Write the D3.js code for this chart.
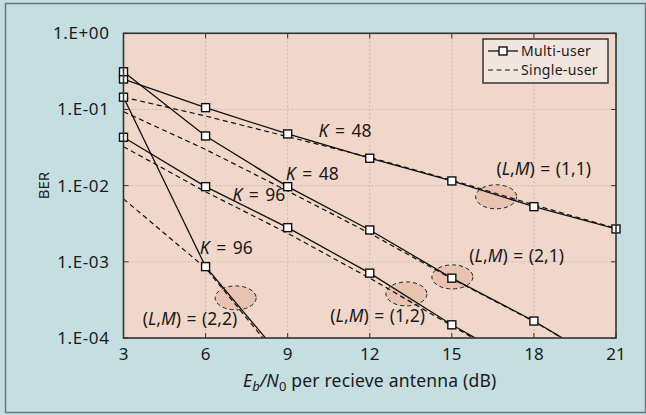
<!DOCTYPE html>
<meta charset="utf-8">
<script src="https://d3js.org/d3.v7.min.js"></script>
<style>
  body { margin: 0; }
  text { font-family: "Noto Sans", sans-serif; fill: #1a1a1a; }
</style>
<div id="chart"></div>
<script>

// x values (dB) and BER
var snr = [3, 6, 9, 12, 15, 18, 21];

// multi-user curves (solid, with squares)
var multi11 = [0.251, 0.1057, 0.0477, 0.0229, 0.01153, 0.0053, 0.0027];
var multi21 = [0.313, 0.0449, 0.0097, 0.00262, 0.00061, 0.000167, 0.000038];
var multi12 = [0.0432, 0.0097, 0.00281, 0.00071, 0.000149, 0.000037];
var multi22 = [0.145, 0.000865, 0.000045];

// single-user curves (dashed)
var single11 = [0.145, 0.082, 0.044, 0.0235, 0.0118, 0.0056, 0.00275];
var single21 = [0.0935, 0.0299, 0.0085, 0.00237, 0.0006, 0.000165, 0.000038];
var single12 = [0.0325, 0.0083, 0.00237, 0.00061, 0.000145, 0.000035];
var single22x = [3, 5.73, 6, 9];
var single22 = [0.0067, 0.001, 0.00083, 0.00004];

var yTicks = [1, 0.1, 0.01, 0.001, 0.0001];
var yTickLabels = ["1.E+00", "1.E-01", "1.E-02", "1.E-03", "1.E-04"];
var xTicks = [3, 6, 9, 12, 15, 18, 21];

// labels: [x dB, BER at baseline, text]
var kLabels = [[10.13, 0.0434, "48"], [8.93, 0.0119, "48"], [6.98, 0.00635, "96"], [5.79, 0.00127, "96"]];
var lmLabels = [[16.63, 0.0138, "(1,1)"], [15.64, 0.00098, "(2,1)"], [10.56, 0.000164, "(1,2)"], [3.70, 0.000148, "(2,2)"]];
// ellipse centres [x dB, BER]
var ellipses = [[16.62, 0.00714], [15.02, 0.000634], [13.34, 0.000379], [7.10, 0.000336]];

var W = 646, H = 415;
var margin = {top: 33.3, right: 30, bottom: 77, left: 123.5},
  width = 616 - margin.left,
  height = 338 - margin.top;

var svg = d3.select("#chart").append("svg")
  .attr("width", W).attr("height", H);

svg.append("rect").attr("width", W).attr("height", H).attr("fill", "#c4dee2");
svg.append("rect").attr("x", 5.5).attr("y", 3.5).attr("width", 640).attr("height", 409)
  .attr("fill", "none").attr("stroke", "#6c7779").attr("stroke-width", 1.5);

var g = svg.append("g").attr("transform", "translate(" + margin.left + "," + margin.top + ")");

var x = d3.scaleLinear().domain([3, 21]).range([0, width]);
var y = d3.scaleLog().domain([1e-4, 1]).range([height, 0]);

g.append("rect").attr("width", width).attr("height", height).attr("fill", "#f0d7ca");

// grid
g.selectAll(".gx").data(xTicks.slice(1, -1)).enter().append("line")
  .attr("x1", d => x(d)).attr("x2", d => x(d)).attr("y1", 0).attr("y2", height)
  .attr("stroke", "#c2bcbc").attr("stroke-width", 1).attr("stroke-dasharray", "2,2");
g.selectAll(".gy").data(yTicks.slice(1, -1)).enter().append("line")
  .attr("y1", d => y(d)).attr("y2", d => y(d)).attr("x1", 0).attr("x2", width)
  .attr("stroke", "#c2bcbc").attr("stroke-width", 1).attr("stroke-dasharray", "2,2");

// ellipses
g.selectAll(".ell").data(ellipses).enter().append("ellipse")
  .attr("cx", d => x(d[0])).attr("cy", d => y(d[1])).attr("rx", 20.5).attr("ry", 12)
  .attr("fill", "#e8c3b1").attr("stroke", "#222").attr("stroke-width", 1).attr("stroke-dasharray", "4,3");

g.append("clipPath").attr("id", "clip").append("rect").attr("width", width).attr("height", height);
var plot = g.append("g").attr("clip-path", "url(#clip)");

var line = d3.line().x(d => x(d[0])).y(d => y(d[1]));
function pts(xs, ys) { return ys.map((v, i) => [xs[i], v]); }

var singles = [pts(snr, single11), pts(snr, single21), pts(snr, single12), pts(single22x, single22)];
var multis = [pts(snr, multi11), pts(snr, multi21), pts(snr, multi12), pts(snr, multi22)];

plot.selectAll(".single").data(singles).enter().append("path")
  .attr("d", line).attr("fill", "none").attr("stroke", "#111").attr("stroke-width", 1.2)
  .attr("stroke-dasharray", "5,3.5");
plot.selectAll(".multi").data(multis).enter().append("path")
  .attr("d", line).attr("fill", "none").attr("stroke", "#111").attr("stroke-width", 1.3);

// markers (only those inside the axes)
var marks = [].concat.apply([], multis).filter(d => d[1] >= 1e-4);
g.selectAll(".mk").data(marks).enter().append("rect")
  .attr("x", d => x(d[0]) - 4).attr("y", d => y(d[1]) - 4).attr("width", 8).attr("height", 8)
  .attr("fill", "#fff").attr("stroke", "#111").attr("stroke-width", 1.4);

// frame + inward ticks
g.append("rect").attr("width", width).attr("height", height)
  .attr("fill", "none").attr("stroke", "#333").attr("stroke-width", 1.6);
xTicks.forEach(function(t) {
  g.append("line").attr("x1", x(t)).attr("x2", x(t)).attr("y1", height).attr("y2", height - 5).attr("stroke", "#333");
  g.append("line").attr("x1", x(t)).attr("x2", x(t)).attr("y1", 0).attr("y2", 5).attr("stroke", "#333");
});
yTicks.forEach(function(t) {
  g.append("line").attr("y1", y(t)).attr("y2", y(t)).attr("x1", 0).attr("x2", 5).attr("stroke", "#333");
  g.append("line").attr("y1", y(t)).attr("y2", y(t)).attr("x1", width).attr("x2", width - 5).attr("stroke", "#333");
});

// tick labels
g.selectAll(".yl").data(yTicks).enter().append("text")
  .attr("x", -14).attr("y", d => y(d) + 6).attr("text-anchor", "end")
  .style("font-size", "17px").style("letter-spacing", "0.6px").text((d, i) => yTickLabels[i]);
g.selectAll(".xl").data(xTicks).enter().append("text")
  .attr("x", d => x(d)).attr("y", height + 22).attr("text-anchor", "middle")
  .style("font-size", "17px").text(d => d);

// axis titles
var xt = g.append("text").attr("x", width / 2).attr("y", height + 49).attr("text-anchor", "middle")
  .style("font-size", "17.5px").style("letter-spacing", "0.2px");
xt.append("tspan").style("font-style", "italic").text("E");
xt.append("tspan").style("font-style", "italic").style("font-size", "13px").attr("dy", 4).text("b");
xt.append("tspan").attr("dy", -4).style("font-style", "italic").text("/N");
xt.append("tspan").style("font-size", "13px").attr("dy", 4).text("0");
xt.append("tspan").attr("dy", -4).text(" per recieve antenna (dB)");

g.append("text").attr("transform", "translate(-75," + (height / 2) + ") rotate(-90)")
  .attr("text-anchor", "middle").style("font-size", "15px").text("BER");

// curve labels
kLabels.forEach(function(d) {
  var t = g.append("text").attr("x", x(d[0])).attr("y", y(d[1]))
    .style("font-size", "17.5px").style("word-spacing", "2px");
  t.append("tspan").style("font-style", "italic").text("K");
  t.append("tspan").text(" = " + d[2]);
});
lmLabels.forEach(function(d) {
  var t = g.append("text").attr("x", x(d[0])).attr("y", y(d[1]))
    .style("font-size", "17.5px").style("word-spacing", "1px");
  t.append("tspan").text("(");
  t.append("tspan").style("font-style", "italic").text("L");
  t.append("tspan").text(",");
  t.append("tspan").style("font-style", "italic").text("M");
  t.append("tspan").text(") = " + d[2]);
});

// legend
var lg = svg.append("g").attr("transform", "translate(483,39)");
lg.append("rect").attr("width", 125).attr("height", 44).attr("fill", "#f2e5de")
  .attr("stroke", "#333").attr("stroke-width", 1.5);
lg.append("line").attr("x1", 5).attr("x2", 35).attr("y1", 12).attr("y2", 12).attr("stroke", "#111").attr("stroke-width", 1.3);
lg.append("rect").attr("x", 16).attr("y", 8).attr("width", 8).attr("height", 8)
  .attr("fill", "#fff").attr("stroke", "#111").attr("stroke-width", 1.4);
lg.append("line").attr("x1", 5).attr("x2", 35).attr("y1", 31).attr("y2", 31).attr("stroke", "#111")
  .attr("stroke-width", 1.2).attr("stroke-dasharray", "5,3.5");
lg.append("text").attr("x", 38).attr("y", 16.5).style("font-size", "14px").style("letter-spacing", "0.3px").text("Multi-user");
lg.append("text").attr("x", 38).attr("y", 36).style("font-size", "14px").style("letter-spacing", "0.3px").text("Single-user");

</script>
